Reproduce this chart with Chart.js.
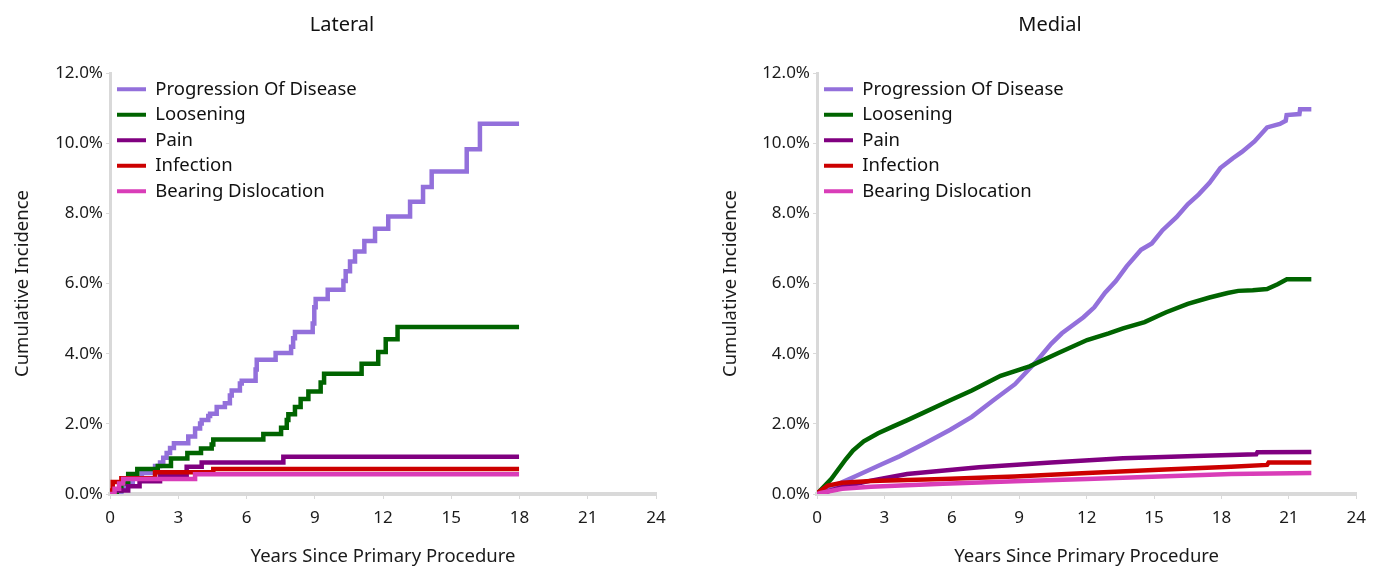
<!DOCTYPE html>
<html><head><meta charset="utf-8">
<script src="https://cdn.jsdelivr.net/npm/chart.js@4.4.0/dist/chart.umd.min.js"></script>
<style>
html,body{margin:0;padding:0;background:#fff;overflow:hidden;width:1375px;height:566px;}
#lat{position:absolute;left:0;top:0;}
#med{position:absolute;left:687px;top:0;}
</style></head><body>
<canvas id="lat" width="687" height="572"></canvas>
<canvas id="med" width="688" height="572"></canvas>
<script>
const seriesNames = ['Progression Of Disease','Loosening','Pain','Infection','Bearing Dislocation'];
const seriesColors = ['#9370DB','#006400','#800080','#CC0000','#D93DB8'];
const xTickValues = [0,3,6,9,12,15,18,21,24];
const yTickValues = [0,2,4,6,8,10,12];

// Lateral: [years, cumulative incidence %]
const latProgression = [[0,0],[0.3,0.06],[0.5,0.15],[0.7,0.3],[1.0,0.45],[1.4,0.6],[1.98,0.8],[2.2,0.9],[2.34,1.03],[2.49,1.17],[2.64,1.31],[2.81,1.45],[3.44,1.64],[3.74,1.87],[3.96,2.01],[4.03,2.11],[4.32,2.22],[4.4,2.29],[4.69,2.48],[5.05,2.59],[5.27,2.81],[5.35,2.95],[5.71,3.15],[5.79,3.23],[6.4,3.55],[6.45,3.83],[7.28,4.02],[7.96,4.20],[8.05,4.44],[8.13,4.62],[8.91,4.86],[8.98,5.32],[9.04,5.56],[9.57,5.82],[10.26,6.07],[10.36,6.35],[10.55,6.63],[10.77,6.91],[11.18,7.21],[11.65,7.56],[12.23,7.91],[13.19,8.33],[13.76,8.75],[14.14,9.19],[15.68,9.83],[16.26,10.55],[17.98,10.55]];
const latLoosening = [[0,0],[0.3,0.1],[0.5,0.3],[0.8,0.57],[1.2,0.71],[2.1,0.80],[2.68,1.01],[3.40,1.17],[4.0,1.30],[4.47,1.41],[4.54,1.55],[6.74,1.71],[7.52,1.89],[7.77,2.11],[7.84,2.27],[8.13,2.48],[8.38,2.71],[8.72,2.92],[9.26,3.18],[9.41,3.43],[11.06,3.71],[11.79,4.05],[12.12,4.41],[12.64,4.76],[17.98,4.76]];
const latPain = [[0,0],[0.15,0.1],[0.8,0.22],[1.3,0.36],[2.2,0.55],[3.37,0.78],[4.03,0.90],[7.62,1.06],[17.98,1.06]];
const latInfection = [[0,0],[0.05,0.1],[0.12,0.34],[0.5,0.45],[1.98,0.62],[4.54,0.71],[17.98,0.71]];
const latBearing = [[0,0],[0.2,0.15],[0.4,0.3],[0.58,0.43],[3.74,0.56],[17.98,0.56]];

// Medial: [years, cumulative incidence %]
const medProgression = [[0,0],[0.16,0.06],[0.96,0.29],[1.76,0.52],[2.88,0.85],[3.69,1.08],[4.81,1.45],[5.93,1.83],[6.89,2.20],[7.85,2.67],[8.81,3.13],[9.78,3.79],[10.42,4.28],[10.9,4.58],[11.38,4.81],[11.86,5.04],[12.34,5.32],[12.82,5.74],[13.3,6.07],[13.78,6.49],[14.42,6.96],[14.9,7.14],[15.38,7.52],[16.0,7.89],[16.5,8.26],[16.99,8.54],[17.47,8.87],[17.95,9.29],[18.51,9.57],[18.91,9.75],[19.47,10.05],[20.03,10.45],[20.6,10.55],[20.86,10.64],[20.9,10.8],[21.47,10.83],[21.5,10.97],[22.0,10.97]];
const medLoosening = [[0,0],[0.08,0.06],[0.64,0.43],[1.28,0.99],[1.6,1.24],[2.08,1.50],[2.72,1.73],[3.37,1.92],[4.0,2.10],[4.65,2.29],[5.93,2.67],[6.89,2.95],[8.17,3.37],[9.46,3.64],[10.74,4.02],[12.02,4.39],[12.98,4.58],[13.62,4.72],[14.58,4.90],[15.22,5.09],[15.54,5.18],[16.5,5.42],[17.47,5.60],[18.27,5.73],[18.75,5.79],[19.39,5.81],[20.03,5.84],[20.5,5.98],[20.91,6.12],[22.0,6.12]];
const medPain = [[0,0],[0.16,0.01],[1.12,0.20],[2.4,0.38],[4.01,0.57],[7.21,0.76],[10.42,0.90],[13.62,1.02],[16.83,1.08],[19.55,1.13],[19.6,1.19],[22.0,1.20]];
const medInfection = [[0,0.02],[0.48,0.24],[1.12,0.32],[2.4,0.37],[5.61,0.43],[8.81,0.50],[12.02,0.60],[15.22,0.69],[18.43,0.78],[20.03,0.83],[20.1,0.90],[22.0,0.90]];
const medBearing = [[0,0],[0.16,0.03],[1.12,0.15],[2.4,0.21],[5.61,0.29],[8.81,0.36],[12.02,0.43],[15.22,0.50],[18.43,0.57],[22.0,0.60]];

Chart.defaults.font.family = "'Noto Sans', sans-serif";
Chart.defaults.color = '#1a1a1a';

const placeBoxes = {
  id: 'placeBoxes',
  afterLayout(chart, args, opts) {
    const lg = chart.legend, ca = chart.chartArea;
    if (lg && ca) { lg.left = ca.left; lg.top = ca.top; lg.bottom = ca.bottom; lg.height = ca.bottom - ca.top; }
    const tb = chart.titleBlock;
    if (tb && opts.titleCenter != null) { tb.left = opts.titleCenter - 200; tb.right = opts.titleCenter + 200; tb.width = 400; }
  }
};

function makeChart(id, title, series, stepped, yWidth, yTitlePad, rightPad, titleCenter) {
  const datasets = series.map((s, i) => ({
    label: seriesNames[i],
    data: s.map(p => ({x: p[0], y: p[1]})),
    borderColor: seriesColors[i],
    backgroundColor: seriesColors[i],
    borderWidth: 4.5,
    pointRadius: 0,
    stepped: stepped,
    tension: 0,
    order: series.length - i
  }));
  return new Chart(document.getElementById(id), {
    type: 'line',
    data: {datasets},
    plugins: [placeBoxes],
    options: {
      responsive: false,
      animation: false,
      events: [],
      layout: {padding: {left: 0, right: rightPad, top: 0, bottom: 0}},
      plugins: {
        placeBoxes: {titleCenter},
        title: {display: true, text: title, color: '#111', font: {size: 20, weight: 'normal'}, padding: {top: 13, bottom: 36}},
        legend: {
          position: 'chartArea', align: 'start',
          labels: {
            boxWidth: 29, boxHeight: 4, padding: 7, color: '#111',
            font: {size: 18.5},
            sort: (a, b) => a.datasetIndex - b.datasetIndex,
            generateLabels: (chart) => Chart.defaults.plugins.legend.labels.generateLabels(chart).map(l => Object.assign(l, {lineWidth: 0, fillStyle: l.strokeStyle}))
          }
        },
        tooltip: {enabled: false}
      },
      scales: {
        x: {
          type: 'linear', min: 0, max: 24,
          afterBuildTicks: (sc) => { sc.ticks = xTickValues.map(v => ({value: v})); },
          ticks: {font: {size: 17}, padding: 9, color: '#1a1a1a', maxRotation: 0},
          grid: {drawOnChartArea: false, drawTicks: true, tickLength: 5, color: '#d9d9d9'},
          border: {display: true, color: '#d9d9d9', width: 4},
          title: {display: true, text: 'Years Since Primary Procedure', font: {size: 18.5}, color: '#1a1a1a', padding: {top: 8, bottom: 4.4}}
        },
        y: {
          min: 0, max: 12,
          afterBuildTicks: (sc) => { sc.ticks = yTickValues.map(v => ({value: v})); },
          afterFit: (sc) => { sc.width = yWidth; },
          ticks: {font: {size: 17}, padding: 3, color: '#1a1a1a', callback: v => v.toFixed(1) + '%'},
          grid: {drawOnChartArea: false, drawTicks: true, tickLength: 4, color: '#d9d9d9'},
          border: {display: true, color: '#d9d9d9', width: 3},
          title: {display: true, text: 'Cumulative Incidence', font: {size: 18.5}, color: '#1a1a1a', padding: {top: yTitlePad, bottom: 0}}
        }
      }
    }
  });
}

makeChart('lat', 'Lateral', [latProgression, latLoosening, latPain, latInfection, latBearing], true, 110, 12, 31, 342);
makeChart('med', 'Medial', [medProgression, medLoosening, medPain, medInfection, medBearing], false, 130, 33, 14, 363);
</script>
</body></html>
